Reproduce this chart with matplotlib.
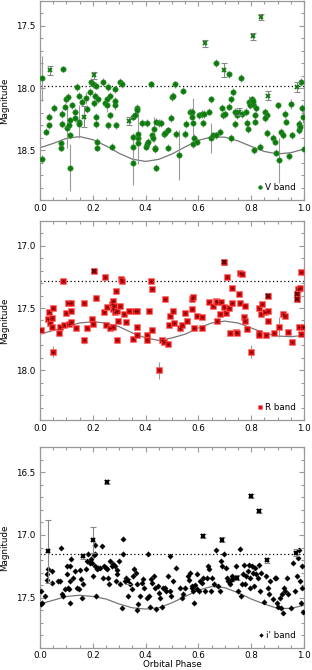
import matplotlib
matplotlib.use("Agg")
import matplotlib.pyplot as plt
from matplotlib.ticker import MultipleLocator, FormatStrFormatter

plt.rcParams['font.family'] = ['DejaVu Sans']

# ---------------- V band ----------------
v_phase = [
0.006,0.009,0.021,0.034,0.034,0.054,0.082,0.084,0.079,0.079,
0.086,0.096,0.097,0.101,0.107,0.113,0.111,0.112,0.113,0.120,
0.132,0.134,0.139,0.146,0.149,0.146,0.158,0.173,0.179,0.189,
0.195,0.202,0.206,0.208,0.214,0.221,0.214,0.214,0.217,0.217,
0.240,0.247,0.252,0.255,0.257,0.259,0.265,0.265,0.272,0.284,
0.284,0.289,0.284,0.303,0.309,0.352,0.359,0.351,0.353,0.353,
0.366,0.369,0.372,0.371,0.373,0.387,0.404,0.401,0.404,0.410,
0.419,0.426,0.429,0.431,0.435,0.436,0.440,0.441,0.450,0.460,
0.470,0.475,0.483,0.485,0.497,0.501,0.504,0.513,0.517,0.527,
0.542,0.551,0.554,0.567,0.574,0.574,0.580,0.580,0.584,0.593,
0.603,0.612,0.622,0.618,0.639,0.646,0.649,0.656,0.668,0.668,
0.681,0.690,0.694,0.701,0.716,0.716,0.723,0.725,0.731,0.738,
0.740,0.747,0.760,0.767,0.782,0.784,0.788,0.792,0.794,0.802,
0.805,0.808,0.815,0.815,0.820,0.811,0.834,0.851,0.858,0.858,
0.854,0.884,0.889,0.895,0.902,0.905,0.914,0.921,0.929,0.933,
0.943,0.952,0.956,0.980,0.981,0.984,0.990,0.994,0.996,0.999]
v_mag = [
17.92,18.57,18.35,18.30,18.23,18.16,18.29,18.21,18.44,18.48,
17.85,18.15,18.09,18.32,18.07,18.64,18.30,18.26,18.38,18.14,
18.19,18.24,17.99,18.27,18.29,18.06,18.11,18.08,18.17,18.03,
17.95,17.97,18.12,18.06,17.98,18.09,18.29,18.23,18.43,18.48,
17.95,18.12,18.09,18.14,18.30,17.99,18.22,18.06,18.47,18.14,
18.01,18.30,18.10,17.95,17.97,18.23,18.22,18.47,18.60,18.39,
18.16,18.18,18.40,18.44,18.37,18.28,18.28,18.47,18.45,18.43,
17.97,18.38,18.40,18.33,18.48,18.49,18.64,18.27,18.28,18.28,
18.37,18.36,18.34,18.48,18.24,18.07,18.06,17.97,18.37,18.54,
18.02,18.37,18.29,18.19,18.19,18.23,18.28,18.45,18.40,18.43,
18.22,18.21,18.21,18.28,18.19,18.09,18.40,18.38,17.80,18.38,
18.35,18.16,18.22,18.21,17.89,18.15,18.09,18.40,18.03,18.19,
18.29,18.22,17.92,18.21,18.19,18.28,18.33,18.11,18.14,18.09,
18.13,18.10,18.22,18.27,18.16,18.50,18.47,18.19,18.36,18.22,
18.24,18.40,18.43,18.52,18.14,18.58,18.35,18.38,18.21,18.27,
18.55,18.13,18.38,18.34,18.29,18.31,17.95,18.16,18.23,18.49]
v_err = [
0.18,0.03,0.03,0.03,0.03,0.03,0.03,0.03,0.03,0.03,
0.02,0.03,0.03,0.16,0.03,0.19,0.04,0.03,0.03,0.03,
0.03,0.03,0.03,0.13,0.03,0.03,0.03,0.05,0.03,0.03,
0.03,0.03,0.03,0.03,0.03,0.03,0.03,0.03,0.03,0.03,
0.03,0.03,0.03,0.05,0.03,0.03,0.03,0.03,0.03,0.04,
0.03,0.03,0.03,0.03,0.03,0.03,0.03,0.05,0.18,0.03,
0.03,0.03,0.21,0.03,0.03,0.03,0.03,0.03,0.03,0.03,
0.03,0.03,0.03,0.10,0.03,0.03,0.03,0.03,0.03,0.03,
0.03,0.03,0.03,0.03,0.03,0.03,0.03,0.03,0.03,0.20,
0.03,0.03,0.03,0.03,0.03,0.03,0.20,0.03,0.03,0.03,
0.03,0.03,0.03,0.03,0.03,0.03,0.12,0.03,0.03,0.03,
0.03,0.03,0.03,0.03,0.03,0.03,0.03,0.03,0.03,0.03,
0.03,0.03,0.03,0.03,0.03,0.03,0.03,0.05,0.03,0.03,
0.03,0.03,0.03,0.03,0.03,0.03,0.03,0.03,0.03,0.03,
0.03,0.03,0.03,0.03,0.03,0.18,0.03,0.03,0.03,0.03,
0.03,0.04,0.03,0.03,0.03,0.05,0.03,0.03,0.05,0.03]
vx_phase = [0.038,0.166,0.206,0.338,0.624,0.696,0.754,0.807,0.839,0.864,0.975]
vx_mag = [17.856,18.23,17.898,18.265,17.64,17.856,18.19,17.584,17.426,18.06,17.99]
vx_err = [0.035,0.085,0.03,0.035,0.03,0.055,0.03,0.03,0.025,0.04,0.04]

# ---------------- R band ----------------
r_phase = [
0.003,0.029,0.033,0.038,0.044,0.044,0.049,0.050,0.073,0.076,
0.088,0.091,0.098,0.107,0.111,0.116,0.117,0.118,0.135,0.166,
0.166,0.179,0.197,0.199,0.212,0.242,0.246,0.252,0.250,0.265,
0.271,0.277,0.277,0.280,0.284,0.277,0.286,0.293,0.293,0.297,
0.303,0.305,0.311,0.318,0.325,0.338,0.353,0.359,0.366,0.368,
0.369,0.404,0.407,0.412,0.420,0.425,0.425,0.450,0.463,0.469,
0.473,0.486,0.489,0.494,0.502,0.508,0.530,0.536,0.551,0.557,
0.574,0.574,0.580,0.584,0.596,0.612,0.614,0.640,0.656,0.668,
0.671,0.671,0.681,0.687,0.696,0.704,0.710,0.715,0.721,0.729,
0.729,0.741,0.748,0.754,0.757,0.767,0.757,0.775,0.773,0.778,
0.784,0.800,0.828,0.830,0.830,0.836,0.841,0.851,0.855,0.862,
0.862,0.885,0.905,0.920,0.928,0.941,0.954,0.977,0.980,0.984,
0.987,0.990,0.996]
r_mag = [
17.68,17.59,17.53,17.62,17.58,17.65,17.50,17.85,17.70,17.65,
17.28,17.64,17.54,17.46,17.63,17.52,17.46,17.61,17.66,17.46,
17.76,17.66,17.59,17.63,17.42,17.53,17.25,17.49,17.64,17.66,
17.47,17.44,17.51,17.48,17.53,17.65,17.36,17.52,17.76,17.60,
17.48,17.27,17.28,17.55,17.61,17.52,17.75,17.52,17.65,17.72,
17.52,17.72,17.76,17.52,17.28,17.68,17.35,18.00,17.76,17.77,
17.43,17.79,17.64,17.56,17.52,17.62,17.66,17.64,17.54,17.60,
17.43,17.51,17.41,17.66,17.56,17.57,17.66,17.45,17.48,17.44,
17.45,17.60,17.55,17.45,17.49,17.54,17.25,17.50,17.70,17.46,
17.34,17.69,17.70,17.39,17.22,17.23,17.46,17.48,17.57,17.60,
17.67,17.85,17.70,17.72,17.50,17.55,17.47,17.53,17.72,17.52,
17.60,17.70,17.65,17.55,17.56,17.69,17.77,17.35,17.65,17.34,
17.21,17.71,17.65]
r_err = [
0.015,0.015,0.015,0.015,0.015,0.015,0.015,0.045,0.015,0.015,
0.015,0.015,0.015,0.02,0.015,0.015,0.015,0.015,0.015,0.02,
0.03,0.015,0.015,0.015,0.015,0.015,0.015,0.015,0.015,0.015,
0.015,0.015,0.015,0.015,0.015,0.015,0.015,0.015,0.015,0.015,
0.015,0.015,0.015,0.015,0.015,0.015,0.015,0.015,0.015,0.015,
0.015,0.015,0.015,0.015,0.015,0.015,0.015,0.07,0.015,0.015,
0.015,0.015,0.015,0.015,0.015,0.015,0.03,0.015,0.015,0.015,
0.015,0.015,0.015,0.015,0.015,0.015,0.015,0.015,0.015,0.015,
0.015,0.015,0.015,0.015,0.015,0.015,0.015,0.02,0.015,0.015,
0.015,0.015,0.015,0.015,0.025,0.015,0.015,0.015,0.015,0.015,
0.015,0.05,0.015,0.015,0.015,0.015,0.015,0.015,0.015,0.015,
0.015,0.015,0.08,0.015,0.015,0.015,0.015,0.015,0.015,0.015,
0.015,0.015,0.015]
rx_phase = [0.206,0.696,0.865,0.975,0.975]
rx_mag = [17.20,17.13,17.40,17.39,17.43]
rx_err = [0.015,0.02,0.02,0.02,0.02]

# ---------------- i' band ----------------
i_phase = [
0.003,0.006,0.005,0.019,0.025,0.025,0.032,0.044,0.047,0.069,
0.076,0.079,0.082,0.088,0.095,0.101,0.101,0.107,0.110,0.113,
0.113,0.117,0.113,0.126,0.132,0.139,0.148,0.151,0.155,0.158,
0.164,0.174,0.179,0.183,0.189,0.193,0.197,0.199,0.204,0.207,
0.208,0.210,0.214,0.217,0.221,0.227,0.233,0.237,0.242,0.250,
0.255,0.256,0.261,0.265,0.271,0.277,0.284,0.288,0.290,0.293,
0.298,0.303,0.309,0.313,0.315,0.322,0.325,0.334,0.340,0.347,
0.353,0.357,0.363,0.366,0.369,0.373,0.378,0.385,0.391,0.393,
0.404,0.410,0.414,0.416,0.422,0.426,0.431,0.435,0.441,0.448,
0.450,0.456,0.464,0.467,0.473,0.479,0.486,0.492,0.494,0.498,
0.502,0.517,0.530,0.536,0.542,0.549,0.561,0.565,0.567,0.574,
0.576,0.580,0.584,0.589,0.593,0.596,0.603,0.605,0.612,0.618,
0.624,0.633,0.637,0.641,0.647,0.653,0.658,0.668,0.675,0.681,
0.687,0.691,0.696,0.704,0.710,0.713,0.719,0.722,0.729,0.731,
0.744,0.750,0.757,0.760,0.766,0.769,0.772,0.778,0.782,0.788,
0.792,0.794,0.797,0.804,0.807,0.811,0.815,0.820,0.826,0.830,
0.832,0.836,0.847,0.855,0.864,0.866,0.873,0.883,0.889,0.895,
0.899,0.903,0.908,0.912,0.915,0.921,0.924,0.929,0.936,0.941,
0.952,0.958,0.965,0.974,0.977,0.981,0.984,0.987,0.991,0.994,
0.996]
i_mag = [
17.45,17.54,17.55,17.49,17.31,17.36,17.27,17.38,17.29,17.37,
17.37,17.10,17.47,17.49,17.43,17.25,17.31,17.42,17.43,17.54,
17.25,17.19,17.37,17.34,17.29,17.42,17.43,17.28,17.35,17.50,
17.39,17.27,17.21,17.15,17.22,17.19,17.22,17.33,17.16,17.25,
17.08,17.15,17.49,17.27,17.26,17.26,17.09,17.34,17.25,17.26,
17.27,17.34,17.39,17.21,17.25,17.23,17.25,17.37,17.28,17.31,
17.21,17.39,17.58,17.03,17.15,17.37,17.34,17.49,17.39,17.43,
17.33,17.27,17.30,17.39,17.60,17.55,17.49,17.38,17.35,17.42,
17.50,17.15,17.49,17.57,17.35,17.38,17.33,17.42,17.59,17.41,
17.46,17.50,17.57,17.42,17.42,17.45,17.33,17.17,17.45,17.49,
17.37,17.26,17.42,17.50,17.47,17.42,17.33,17.36,17.30,17.42,
17.41,17.45,17.54,17.40,17.31,17.43,17.45,17.37,17.38,17.34,
17.45,17.34,17.25,17.27,17.45,17.34,17.39,17.12,17.41,17.45,
17.21,17.25,17.15,17.26,17.34,17.37,17.39,17.36,17.33,17.35,
17.25,17.45,17.11,17.49,17.39,17.31,17.24,17.39,17.33,17.29,
17.24,17.42,17.34,17.25,17.30,17.41,17.26,17.31,17.34,17.24,
17.45,17.30,17.53,17.33,17.42,17.47,17.37,17.51,17.34,17.34,
17.54,17.57,17.50,17.58,17.47,17.62,17.42,17.45,17.34,17.47,
17.58,17.22,17.45,17.33,17.18,17.12,17.37,17.54,17.25,17.42,
17.61]
i_err = [0.02] * len(i_mag)
ix_phase = [0.032,0.161,0.202,0.252,0.332,0.618,0.691,0.746,0.801,0.830,0.861,0.968]
ix_mag = [17.13,17.17,17.04,16.58,17.37,17.01,17.04,17.34,16.69,16.81,17.20,17.14]
ix_err = [0.25,0.02,0.10,0.015,0.02,0.015,0.02,0.02,0.015,0.015,0.02,0.03]

# ---------------- model curves & reference levels ----------------
curve_phase = [0.00,0.05,0.10,0.15,0.20,0.25,0.30,0.35,0.40,0.45,0.50,
               0.55,0.60,0.65,0.70,0.75,0.80,0.85,0.90,0.95,1.00]
v_curve = [18.48,18.445,18.405,18.39,18.415,18.465,18.525,18.572,18.59,18.573,18.53,
           18.473,18.42,18.393,18.395,18.425,18.469,18.51,18.529,18.52,18.49]
r_curve = [17.71,17.68,17.65,17.62,17.61,17.62,17.65,17.70,17.74,17.76,17.74,
           17.71,17.66,17.62,17.605,17.62,17.66,17.70,17.725,17.73,17.72]
i_curve = [17.55,17.52,17.49,17.48,17.49,17.51,17.55,17.58,17.59,17.58,17.54,
           17.49,17.44,17.41,17.42,17.46,17.51,17.55,17.585,17.585,17.56]
v_level, r_level, i_level = 17.98, 17.28, 17.15

GREEN = '#0e7a0e'
RED = '#e01010'
ECOL = '#9a9a9a'
AXCOL = '#999999'

fig = plt.figure(figsize=(3.12, 6.70), dpi=100)
left, width = 40/312, 264/312
axes = [fig.add_axes([left, 1-200/670, width, 199/670]),
        fig.add_axes([left, 1-420/670, width, 199/670]),
        fig.add_axes([left, 1-648/670, width, 201/670])]

ylims = [(18.9, 17.3), (18.4, 16.8), (17.9, 16.3)]
for ax, yl in zip(axes, ylims):
    ax.set_xlim(0, 1)
    ax.set_ylim(*yl)
    ax.xaxis.set_major_locator(MultipleLocator(0.2))
    ax.xaxis.set_minor_locator(MultipleLocator(0.05))
    ax.yaxis.set_major_locator(MultipleLocator(0.5))
    ax.yaxis.set_minor_locator(MultipleLocator(0.1))
    ax.xaxis.set_major_formatter(FormatStrFormatter('%.1f'))
    ax.yaxis.set_major_formatter(FormatStrFormatter('%.1f'))
    ax.tick_params(which='both', direction='in', top=True, right=True,
                   color=AXCOL, width=0.8, labelsize=6.3)
    ax.tick_params(which='major', length=3.6)
    ax.tick_params(which='minor', length=2.0)
    ax.tick_params(axis='y', pad=3.2)
    ax.tick_params(axis='x', pad=3.0)
    for s in ax.spines.values():
        s.set_color(AXCOL)
        s.set_linewidth(0.9)
    ax.set_ylabel('Magnitude', fontsize=6.3)
    ax.yaxis.set_label_coords(-0.118, 0.5)

# V panel
ax = axes[0]
ax.plot(curve_phase, v_curve, color='#777777', lw=0.9, zorder=1)
ax.axhline(v_level, color='k', ls=(0, (1, 2)), lw=0.9, zorder=1)
ax.errorbar(v_phase, v_mag, yerr=v_err, fmt='none', ecolor=ECOL, elinewidth=0.8, zorder=2)
ax.plot(v_phase, v_mag, 'o', ms=3.9, color=GREEN, mec='#3c9a3c', mew=0.4, zorder=3, label='V band')
ax.errorbar(vx_phase, vx_mag, yerr=vx_err, fmt='none', ecolor='#888888', elinewidth=0.8,
            capsize=2.2, capthick=0.8, zorder=4)
ax.plot(vx_phase, vx_mag, 'x', ms=3.3, mew=1.3, color=GREEN, zorder=5)

# R panel
ax = axes[1]
ax.plot(curve_phase, r_curve, color='#777777', lw=0.9, zorder=1)
ax.axhline(r_level, color='k', ls=(0, (1, 2)), lw=0.9, zorder=1)
ax.errorbar(r_phase, r_mag, yerr=r_err, fmt='none', ecolor=ECOL, elinewidth=0.8, zorder=2)
ax.plot(r_phase, r_mag, 's', ms=3.9, color=RED, mec='#ff6a6a', mew=0.4, zorder=3, label='R band')
ax.plot(r_phase, r_mag, '.', ms=1.2, color='#5a0000', zorder=4)
ax.errorbar(rx_phase, rx_mag, yerr=rx_err, fmt='none', ecolor='#888888', elinewidth=0.8,
            capsize=2.2, capthick=0.8, zorder=4)
ax.plot(rx_phase, rx_mag, 's', ms=3.9, color=RED, mec='#ff6a6a', mew=0.4, zorder=5)
ax.plot(rx_phase, rx_mag, 'x', ms=3.3, mew=1.2, color='#5a0000', zorder=6)

# i' panel
ax = axes[2]
ax.plot(curve_phase, i_curve, color='#777777', lw=0.9, zorder=1)
ax.axhline(i_level, color='k', ls=(0, (1, 2)), lw=0.9, zorder=1)
ax.errorbar(i_phase, i_mag, yerr=i_err, fmt='none', ecolor=ECOL, elinewidth=0.8, zorder=2)
ax.plot(i_phase, i_mag, 'D', ms=2.7, color='k', mew=0.3, zorder=3, label="i' band")
ax.errorbar(ix_phase, ix_mag, yerr=ix_err, fmt='none', ecolor='#888888', elinewidth=0.8,
            capsize=2.2, capthick=0.8, zorder=4)
ax.plot(ix_phase, ix_mag, 'x', ms=3.5, mew=1.5, color='k', zorder=5)
ax.tick_params(axis='x', pad=2.2)
ax.set_xlabel('Orbital Phase', fontsize=6.3, labelpad=0.2)

for ax in axes:
    ax.legend(loc='lower right', frameon=False, fontsize=6.3, markerscale=0.7,
              handlelength=0.5, handletextpad=0.35, borderaxespad=0.5)

fig.savefig('out.png', dpi=100)
